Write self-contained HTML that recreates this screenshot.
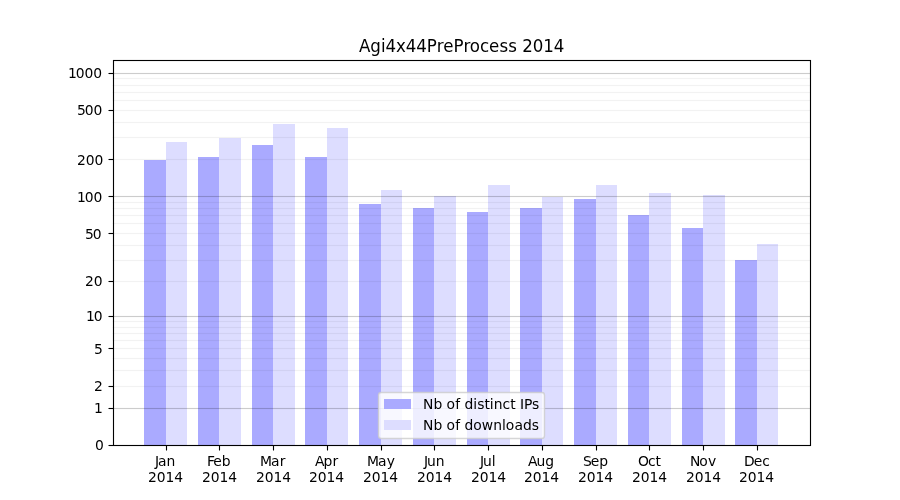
<!DOCTYPE html>
<html lang="en"><head><meta charset="utf-8"><title>Agi4x44PreProcess 2014</title>
<style>
html,body{margin:0;padding:0;background:#fff;}
body{width:900px;height:500px;overflow:hidden;}
svg{display:block;}
svg text{font-family:"DejaVu Sans","Liberation Sans",sans-serif;fill:#000;}
.t{font-size:13.889px;}
.h{font-size:16.667px;}
</style></head><body>
<svg width="900" height="500" viewBox="0 0 900 500">
<rect width="900" height="500" fill="#fff"/>
<g shape-rendering="crispEdges">
<g fill="#aaf">
<rect x="144" y="160" width="22" height="285"/>
<rect x="198" y="157" width="21" height="288"/>
<rect x="252" y="145" width="21" height="300"/>
<rect x="305" y="157" width="22" height="288"/>
<rect x="359" y="204" width="22" height="241"/>
<rect x="413" y="208" width="21" height="237"/>
<rect x="467" y="212" width="21" height="233"/>
<rect x="520" y="208" width="22" height="237"/>
<rect x="574" y="199" width="22" height="246"/>
<rect x="628" y="215" width="21" height="230"/>
<rect x="682" y="228" width="21" height="217"/>
<rect x="735" y="260" width="22" height="185"/>
</g><g fill="#ddf">
<rect x="166" y="142" width="21" height="303"/>
<rect x="219" y="138" width="22" height="307"/>
<rect x="273" y="124" width="22" height="321"/>
<rect x="327" y="128" width="21" height="317"/>
<rect x="381" y="190" width="21" height="255"/>
<rect x="434" y="196" width="22" height="249"/>
<rect x="488" y="185" width="22" height="260"/>
<rect x="542" y="197" width="21" height="248"/>
<rect x="596" y="185" width="21" height="260"/>
<rect x="649" y="193" width="22" height="252"/>
<rect x="703" y="195" width="22" height="250"/>
<rect x="757" y="244" width="21" height="201"/>
</g></g>
<g stroke="#000" stroke-width="1.111" fill="none">
<g stroke-opacity=".05">
<path d="M112.5 386.5H810"/>
<path d="M112.5 370.5H810"/>
<path d="M112.5 358.5H810"/>
<path d="M112.5 348.5H810"/>
<path d="M112.5 340.5H810"/>
<path d="M112.5 333.5H810"/>
<path d="M112.5 327.5H810"/>
<path d="M112.5 321.5H810"/>
<path d="M112.5 281.5H810"/>
<path d="M112.5 260.5H810"/>
<path d="M112.5 245.5H810"/>
<path d="M112.5 233.5H810"/>
<path d="M112.5 223.5H810"/>
<path d="M112.5 215.5H810"/>
<path d="M112.5 208.5H810"/>
<path d="M112.5 202.5H810"/>
<path d="M112.5 159.5H810"/>
<path d="M112.5 137.5H810"/>
<path d="M112.5 122.5H810"/>
<path d="M112.5 110.5H810"/>
<path d="M112.5 100.5H810"/>
<path d="M112.5 92.5H810"/>
<path d="M112.5 85.5H810"/>
<path d="M112.5 78.5H810"/>
</g><g stroke-opacity=".2">
<path d="M112.5 408.5H810"/>
<path d="M112.5 316.5H810"/>
<path d="M112.5 196.5H810"/>
<path d="M112.5 73.5H810"/>
</g>
<path stroke-width="1" stroke-opacity=".0028" d="M114 385.5H810M114 387.5H810M114 369.5H810M114 371.5H810M114 357.5H810M114 359.5H810M114 347.5H810M114 349.5H810M114 339.5H810M114 341.5H810M114 332.5H810M114 334.5H810M114 326.5H810M114 328.5H810M114 320.5H810M114 322.5H810M114 280.5H810M114 282.5H810M114 259.5H810M114 261.5H810M114 244.5H810M114 246.5H810M114 232.5H810M114 234.5H810M114 222.5H810M114 224.5H810M114 214.5H810M114 216.5H810M114 207.5H810M114 209.5H810M114 201.5H810M114 203.5H810M114 158.5H810M114 160.5H810M114 136.5H810M114 138.5H810M114 121.5H810M114 123.5H810M114 109.5H810M114 111.5H810M114 99.5H810M114 101.5H810M114 91.5H810M114 93.5H810M114 84.5H810M114 86.5H810M114 77.5H810M114 79.5H810"/>
<path stroke-width="1" stroke-opacity=".0111" d="M114 407.5H810M114 409.5H810M114 315.5H810M114 317.5H810M114 195.5H810M114 197.5H810M114 72.5H810M114 74.5H810"/>
</g>
<g stroke="#000" stroke-width="1.111" fill="none">
<path d="M108.5 445.5H113"/>
<path d="M108.5 408.5H113"/>
<path d="M108.5 386.5H113"/>
<path d="M108.5 348.5H113"/>
<path d="M108.5 316.5H113"/>
<path d="M108.5 281.5H113"/>
<path d="M108.5 233.5H113"/>
<path d="M108.5 196.5H113"/>
<path d="M108.5 159.5H113"/>
<path d="M108.5 110.5H113"/>
<path d="M108.5 73.5H113"/>
<path d="M166.5 445.5V450.5"/>
<path d="M219.5 445.5V450.5"/>
<path d="M273.5 445.5V450.5"/>
<path d="M327.5 445.5V450.5"/>
<path d="M381.5 445.5V450.5"/>
<path d="M434.5 445.5V450.5"/>
<path d="M488.5 445.5V450.5"/>
<path d="M542.5 445.5V450.5"/>
<path d="M596.5 445.5V450.5"/>
<path d="M649.5 445.5V450.5"/>
<path d="M703.5 445.5V450.5"/>
<path d="M757.5 445.5V450.5"/>
<path stroke-width="1" stroke-opacity=".0555" d="M113 59.5H811M114 61.5H810M114 444.5H810M113 446.5H811"/>
<path stroke-linecap="square" d="M113.5 445.5V60.5M113.5 60.5H810.5M810.5 60.5V445.5M810.5 445.5H113.5"/>
</g>
<rect x="378.5" y="392.5" width="166" height="46" rx="2.78" ry="2.78" fill="#fff" fill-opacity=".8" stroke="#ccc" stroke-opacity=".8" stroke-width="1.389"/>
<g shape-rendering="crispEdges"><rect x="384" y="399" width="27" height="10" fill="#aaf"/><rect x="384" y="420" width="27" height="10" fill="#ddf"/></g>
<text class="t" x="94.9" y="450">0</text>
<text class="t" x="93.88" y="413">1</text>
<text class="t" x="93.89" y="391">2</text>
<text class="t" x="93.93" y="354">5</text>
<text class="t" x="85.89 93.77" y="321">10</text>
<text class="t" x="84.92 93.74" y="286">20</text>
<text class="t" x="84.91 92.73" y="239">50</text>
<text class="t" x="76.94 84.76 93.58" y="202">100</text>
<text class="t" x="76.95 85.76 94.59" y="165">200</text>
<text class="t" x="76.97 84.78 93.61" y="115">500</text>
<text class="t" x="67.9 75.73 84.54 93.37" y="78">1000</text>
<text class="t" x="154.92 158 166.52" y="466">Jan</text>
<text class="t" x="147.94 156.76 165.58 174.16" y="482">2014</text>
<text class="t" x="206.91 213.13 221.66" y="466">Feb</text>
<text class="t" x="201.9 210.72 219.54 228.37" y="482">2014</text>
<text class="t" x="259.89 271.11 279.86" y="466">Mar</text>
<text class="t" x="255.92 264.74 273.56 282.14" y="482">2014</text>
<text class="t" x="314.9 323.39 332.45" y="466">Apr</text>
<text class="t" x="308.89 317.71 326.53 335.36" y="482">2014</text>
<text class="t" x="366.96 377.92 386.67" y="466">May</text>
<text class="t" x="362.89 371.71 380.53 389.36" y="482">2014</text>
<text class="t" x="423.94 427.01 435.81" y="466">Jun</text>
<text class="t" x="416.88 425.7 434.52 443.35" y="482">2014</text>
<text class="t" x="479.89 482.97 491.77" y="466">Jul</text>
<text class="t" x="470.92 479.74 488.56 497.14" y="482">2014</text>
<text class="t" x="527.89 536.38 545.17" y="466">Aug</text>
<text class="t" x="523.91 532.73 541.55 550.13" y="482">2014</text>
<text class="t" x="582.96 590.76 599.31" y="466">Sep</text>
<text class="t" x="577.96 586.78 595.6 604.18" y="482">2014</text>
<text class="t" x="637.89 648.05 655.44" y="466">Oct</text>
<text class="t" x="631.93 640.75 649.57 658.15" y="482">2014</text>
<text class="t" x="689.89 699.27 708" y="466">Nov</text>
<text class="t" x="685.89 694.71 703.53 712.36" y="482">2014</text>
<text class="t" x="743.91 753.83 762.13" y="466">Dec</text>
<text class="t" x="738.93 747.75 756.57 765.15" y="482">2014</text>
<text class="h" transform="translate(0 52) scale(1 1.08)" x="359.09 370.22 381.04 385.42 396.02 405.86 416.21 426.8 436.81 443.28 453.52 463.52 469.74 479.94 489.08 499.59 508.25 516.67 522.22 532.81 543.16 553.76" y="0">Agi4x44PreProcess 2014</text>
<text class="t" x="423.1 433.48 442.27 446.44 455.18 460.07 464.48 473.29 477.13 484.62 489.8 493.66 502.46 510.33 515.52 519.93 524.02 531.9" y="409">Nb of distinct IPs</text>
<text class="t" x="423.07 433.45 442.24 446.41 455.15 460.04 464.45 473.26 481.74 493.34 501.88 505.74 514.48 522.98 531.79" y="430">Nb of downloads</text>
</svg>
</body></html>
